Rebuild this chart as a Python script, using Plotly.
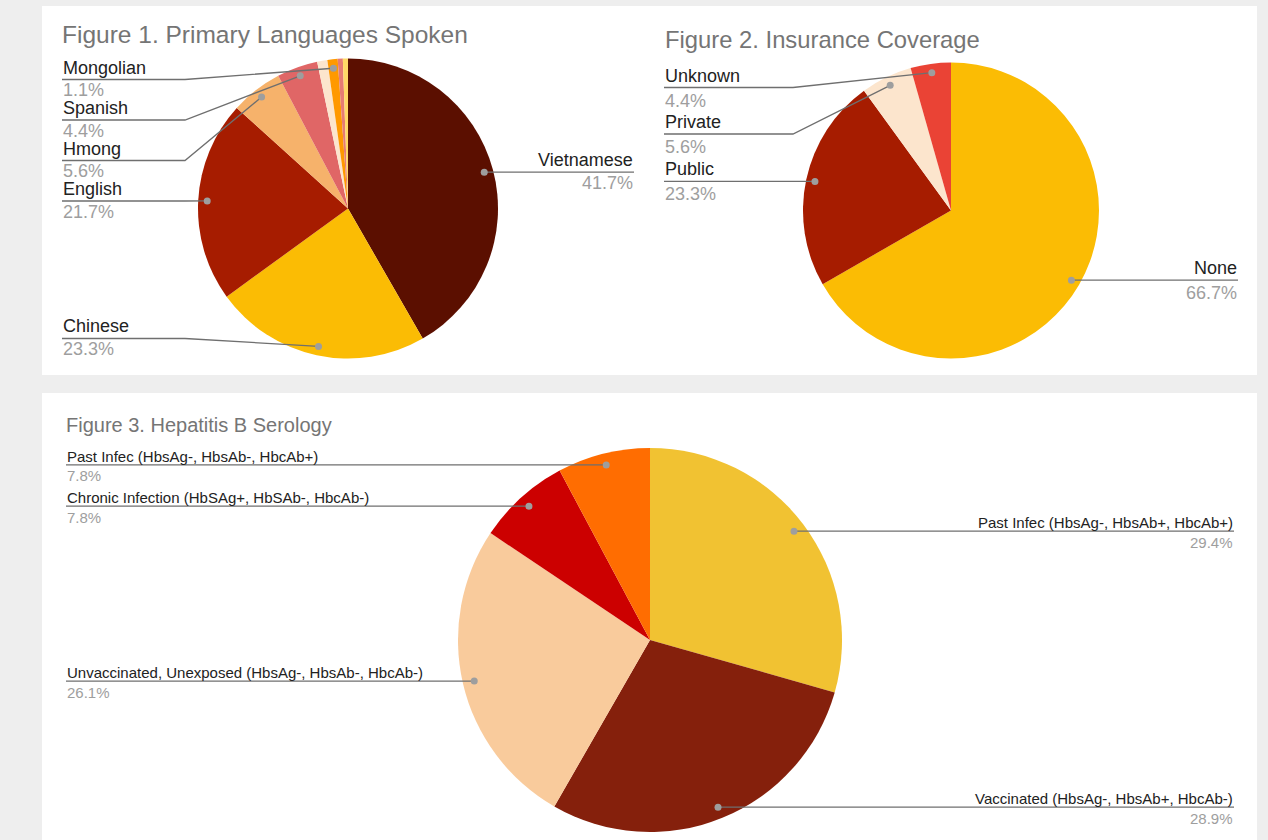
import math
import plotly.graph_objects as go

W, H = 1268, 840
FONT = "Liberation Sans, Arial, sans-serif"

# ---------------- data ----------------
# Figure 1. Primary Languages Spoken (clockwise from 12 o'clock)
lang_labels = ["Vietnamese", "Chinese", "English", "Hmong", "Spanish",
               "Other (a)", "Mongolian", "Other (b)", "Other (c)"]
lang_values = [41.7, 23.3, 21.7, 5.6, 4.4, 1.1, 1.1, 0.55, 0.55]
lang_shown = [True, True, True, True, True, False, True, False, False]
lang_colors = ["#5b0f00", "#fbbc04", "#a61c00", "#f6b26b", "#e06666",
               "#fce5cd", "#ff9900", "#e67c73", "#ffd966"]

# Figure 2. Insurance Coverage
ins_labels = ["None", "Public", "Private", "Unknown"]
ins_values = [66.7, 23.3, 5.6, 4.4]
ins_shown = [True, True, True, True]
ins_colors = ["#fbbc04", "#a61c00", "#fce5cd", "#ea4335"]

# Figure 3. Hepatitis B Serology
hep_labels = ["Past Infec (HbsAg-, HbsAb+, HbcAb+)",
              "Vaccinated (HbsAg-, HbsAb+, HbcAb-)",
              "Unvaccinated, Unexposed (HbsAg-, HbsAb-, HbcAb-)",
              "Chronic Infection (HbSAg+, HbSAb-, HbcAb-)",
              "Past Infec (HbsAg-, HbsAb-, HbcAb+)"]
hep_values = [29.4, 28.9, 26.1, 7.8, 7.8]
hep_shown = [True, True, True, True, True]
hep_colors = ["#f1c232", "#85200c", "#f9cb9c", "#cc0000", "#ff6d01"]

titles = ["Figure 1. Primary Languages Spoken",
          "Figure 2. Insurance Coverage",
          "Figure 3. Hepatitis B Serology"]


def X(px):
    return px / W


def Y(py):
    return 1 - py / H


fig = go.Figure()
shapes = []
annotations = []

# white panels
panels = [(42, 6, 654, 375), (654, 6, 1257, 375), (42, 393, 1257, 840)]
for (x0, y0, x1, y1) in panels:
    shapes.append(dict(type="rect", xref="paper", yref="paper",
                       x0=X(x0), x1=X(x1), y0=Y(y1), y1=Y(y0),
                       fillcolor="white", line=dict(width=0), layer="below"))

charts = [
    dict(labels=lang_labels, values=lang_values, shown=lang_shown, colors=lang_colors,
         cx=348, cy=208.5, R=150, left_x=62, right_x=634, font=18, spacing=40.5,
         top_off=21, bot_off=20, text_dy=-12, pct_dy=10.5, bend=13,
         title=titles[0], tx=60, ty=35, tsize=24.5),
    dict(labels=ins_labels, values=ins_values, shown=ins_shown, colors=ins_colors,
         cx=951, cy=210.5, R=148, left_x=664, right_x=1238, font=18, spacing=46.5,
         top_off=25, bot_off=20, text_dy=-12, pct_dy=13, bend=10,
         title=titles[1], tx=663, ty=39, tsize=23.8),
    dict(labels=hep_labels, values=hep_values, shown=hep_shown, colors=hep_colors,
         cx=650, cy=640, R=192, left_x=66, right_x=1234, font=15, spacing=41,
         top_off=14, bot_off=20, text_dy=-8.5, pct_dy=11, bend=15,
         title=titles[2], tx=64, ty=425, tsize=20),
]

for c in charts:
    cx, cy, R = c["cx"], c["cy"], c["R"]
    fig.add_trace(go.Pie(
        labels=c["labels"], values=c["values"], sort=False, direction="clockwise",
        rotation=0, textinfo="none", showlegend=False,
        marker=dict(colors=c["colors"], line=dict(width=0)),
        domain=dict(x=[X(cx - R), X(cx + R)], y=[Y(cy + R), Y(cy - R)]),
        hovertemplate="%{label}: %{value}%<extra></extra>"))

    annotations.append(dict(x=X(c["tx"]), y=Y(c["ty"]), xref="paper", yref="paper",
                            text=c["title"], showarrow=False, xanchor="left",
                            yanchor="middle",
                            font=dict(family=FONT, size=c["tsize"], color="#757575")))

    total = sum(c["values"])
    cum = 0.0
    items = []
    for lab, v, sh in zip(c["labels"], c["values"], c["shown"]):
        mid = (cum + v / 2) / total
        cum += v
        if not sh:
            continue
        th = 2 * math.pi * mid
        r = 0.94 * R
        dx = cx + r * math.sin(th)
        dy = cy - r * math.cos(th)
        side = "right" if mid < 0.5 else "left"
        items.append(dict(label=lab, v=v, dx=dx, dy=dy, side=side))

    for side in ("left", "right"):
        its = sorted([i for i in items if i["side"] == side], key=lambda i: i["dy"])
        top_min = cy - R + c["top_off"]
        bot_max = cy + R - c["bot_off"]
        prev = -1e9
        for it in its:
            ly = max(it["dy"], prev + c["spacing"], top_min)
            it["ly"] = ly
            prev = ly
        nxt = 1e9
        for it in reversed(its):
            ly = min(it["ly"], nxt - c["spacing"], bot_max)
            it["ly"] = ly
            nxt = ly

        for it in its:
            ly = it["ly"]
            if side == "left":
                tx = c["left_x"]
                bx = cx - R - c["bend"]
                anchor = "left"
            else:
                tx = c["right_x"]
                bx = cx + R + c["bend"]
                anchor = "right"
            path = f"M {X(tx)},{Y(ly)} L {X(bx)},{Y(ly)} L {X(it['dx'])},{Y(it['dy'])}"
            shapes.append(dict(type="path", xref="paper", yref="paper", path=path,
                               line=dict(color="#6f6f6f", width=1.3), layer="above"))
            rd = 3.5
            shapes.append(dict(type="circle", xref="paper", yref="paper",
                               x0=X(it["dx"] - rd), x1=X(it["dx"] + rd),
                               y0=Y(it["dy"] + rd), y1=Y(it["dy"] - rd),
                               fillcolor="#9e9e9e", line=dict(width=0), layer="above"))
            annotations.append(dict(x=X(tx), y=Y(ly + c["text_dy"]), xref="paper",
                                    yref="paper", text=it["label"], showarrow=False,
                                    xanchor=anchor, yanchor="middle", borderpad=0,
                                    font=dict(family=FONT, size=c["font"], color="#222222")))
            annotations.append(dict(x=X(tx), y=Y(ly + c["pct_dy"]), xref="paper",
                                    yref="paper", text=f"{it['v']:.1f}%", showarrow=False,
                                    xanchor=anchor, yanchor="middle", borderpad=0,
                                    font=dict(family=FONT, size=c["font"], color="#9e9e9e")))

fig.update_layout(
    width=W, height=H, autosize=False,
    margin=dict(l=0, r=0, t=0, b=0),
    paper_bgcolor="#eeeeee", plot_bgcolor="rgba(0,0,0,0)",
    shapes=shapes, annotations=annotations,
    xaxis=dict(visible=False), yaxis=dict(visible=False),
)

fig.write_html("out.html", config={"displayModeBar": False})
